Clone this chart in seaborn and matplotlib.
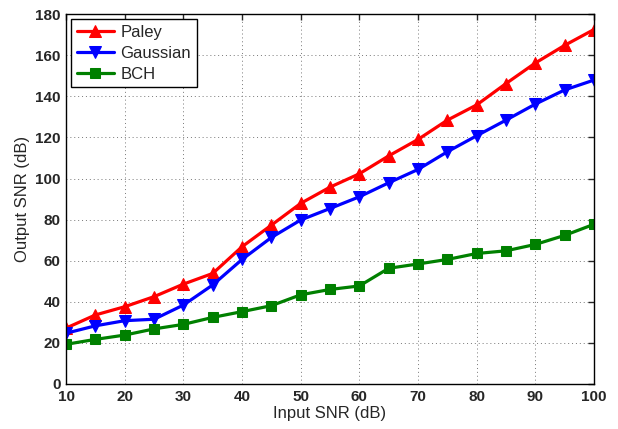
import matplotlib
matplotlib.use("Agg")
import matplotlib.pyplot as plt
import numpy as np
import pandas as pd
import seaborn as sns

input_snr = [10, 15, 20, 25, 30, 35, 40, 45, 50, 55, 60, 65, 70, 75, 80, 85, 90, 95, 100]
paley = [27.2, 33.6, 37.6, 42.5, 48.6, 53.8, 66.8, 77.3, 87.9, 95.8, 102.3, 111.0, 119.0, 128.4, 135.8, 146.2, 156.2, 164.8, 172.5]
gaussian = [24.7, 28.3, 30.8, 31.5, 38.4, 48.2, 60.6, 71.3, 79.8, 85.4, 91.1, 97.9, 104.4, 113.0, 120.8, 128.4, 136.2, 143.1, 147.9]
bch = [19.3, 21.7, 23.8, 26.8, 29.0, 32.4, 35.2, 38.1, 43.4, 46.0, 47.7, 56.3, 58.4, 60.6, 63.5, 64.8, 67.9, 72.3, 77.7]

names = ["Paley", "Gaussian", "BCH"]
colors = {"Paley": "#ff0000", "Gaussian": "#0000ff", "BCH": "#008000"}
markers = {"Paley": "^", "Gaussian": "v", "BCH": "s"}

df = pd.DataFrame({
    "Input SNR (dB)": input_snr * 3,
    "Output SNR (dB)": paley + gaussian + bch,
    "method": ["Paley"] * len(input_snr) + ["Gaussian"] * len(input_snr) + ["BCH"] * len(input_snr),
})

sns.set_style("white")
plt.rcParams["font.family"] = ["Liberation Sans", "DejaVu Sans"]

fig = plt.figure(figsize=(6.18, 4.29), dpi=100)
ax = fig.add_axes([0.107, 0.105, 0.854, 0.862])

sns.lineplot(
    data=df, x="Input SNR (dB)", y="Output SNR (dB)", hue="method", style="method",
    hue_order=names, style_order=names, palette=colors, markers=markers,
    dashes=False, linewidth=2.3, markersize=8, ax=ax,
)
for line in ax.lines:
    line.set_markeredgecolor(line.get_color())
    if line.get_marker() == "s":
        line.set_markersize(6.5)

ax.set_xlim(10, 100)
ax.set_ylim(0, 180)
ax.set_xticks(np.arange(10, 101, 10))
ax.set_yticks(np.arange(0, 181, 20))
ax.grid(True, linestyle=(0, (1, 3)), color="#777777", linewidth=0.7)
for s in ax.spines.values():
    s.set_visible(True)
    s.set_color("black")
    s.set_linewidth(1.0)
ax.tick_params(direction="in", length=4, width=1, top=True, right=True, labelsize=11, pad=4)
for lab in ax.get_xticklabels() + ax.get_yticklabels():
    lab.set_fontweight("bold")
ax.set_xlabel("Input SNR (dB)", fontsize=12, labelpad=2)
ax.set_ylabel("Output SNR (dB)", fontsize=12, labelpad=4)

leg = ax.legend(loc="upper left", fontsize=12, frameon=True, fancybox=False,
                edgecolor="black", borderaxespad=0.3, handlelength=2.2,
                labelspacing=0.35, borderpad=0.35, handletextpad=0.4)
leg.get_frame().set_linewidth(1.0)
leg.get_frame().set_alpha(1)
for h in leg.legend_handles:
    if h.get_marker() == "s":
        h.set_markersize(6.5)

fig.savefig("out.png", dpi=100)
